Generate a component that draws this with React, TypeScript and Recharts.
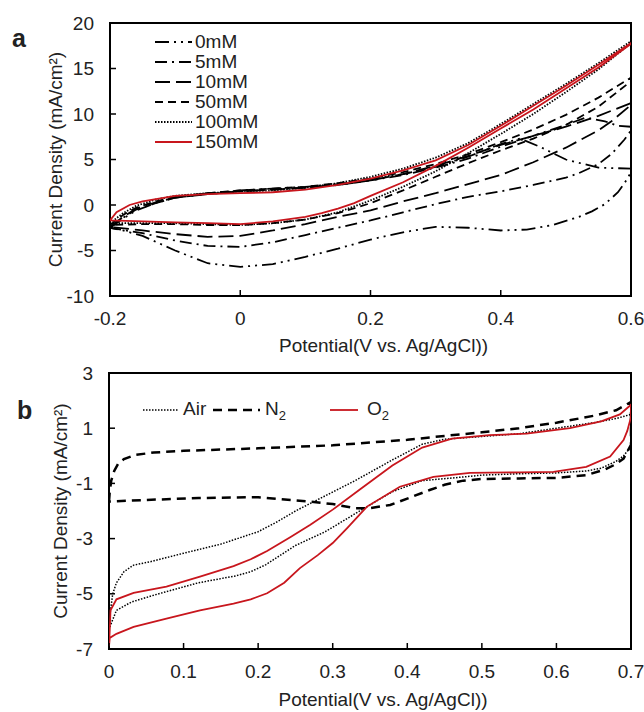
import React from 'react';
import { LineChart, Line, XAxis, YAxis, ReferenceArea, Label } from 'recharts';

// panel a: CV loops [potential V, current mA/cm2], forward scan then reverse scan
const cv0mM = [
  [-0.2, -2.5], [-0.18, -1.5], [-0.16, -0.6], [-0.13, 0.2], [-0.1, 0.8], [-0.05, 1.3], [0, 1.6],
  [0.05, 1.8], [0.1, 2.0], [0.15, 2.3], [0.2, 2.8], [0.25, 3.4], [0.3, 4.2], [0.35, 5.3], [0.4, 6.7],
  [0.43, 7.3], [0.46, 6.4], [0.5, 5.0], [0.55, 4.1], [0.6, 4.0],
  [0.6, 3.6], [0.59, 2.4], [0.58, 1.4], [0.56, 0.1], [0.54, -0.7], [0.52, -1.3], [0.48, -2.2],
  [0.44, -2.7], [0.4, -2.8], [0.35, -2.5], [0.3, -2.4], [0.25, -3.0], [0.2, -3.8], [0.15, -4.8],
  [0.1, -5.7], [0.05, -6.5], [0, -6.8], [-0.05, -6.4], [-0.1, -5.0], [-0.15, -3.4], [-0.18, -2.8], [-0.2, -2.5],
];
const cv5mM = [
  [-0.2, -2.5], [-0.18, -1.4], [-0.16, -0.5], [-0.13, 0.2], [-0.1, 0.8], [-0.05, 1.2], [0, 1.5],
  [0.05, 1.7], [0.1, 1.9], [0.15, 2.2], [0.2, 2.7], [0.25, 3.3], [0.3, 4.1], [0.35, 5.1], [0.4, 6.4],
  [0.45, 7.6], [0.5, 8.8], [0.53, 9.6], [0.56, 9.2], [0.58, 8.7], [0.6, 8.6],
  [0.6, 8.2], [0.59, 7.2], [0.57, 5.6], [0.55, 4.5], [0.52, 3.5], [0.5, 3.0], [0.45, 2.2], [0.4, 1.5],
  [0.35, 0.9], [0.3, 0.1], [0.25, -0.8], [0.2, -1.7], [0.15, -2.5], [0.1, -3.3], [0.05, -4.1], [0, -4.6],
  [-0.05, -4.5], [-0.1, -3.9], [-0.15, -3.1], [-0.2, -2.5],
];
const cv10mM = [
  [-0.2, -2.4], [-0.18, -1.3], [-0.16, -0.4], [-0.13, 0.3], [-0.1, 0.8], [-0.05, 1.2], [0, 1.5],
  [0.05, 1.7], [0.1, 1.9], [0.15, 2.2], [0.2, 2.7], [0.25, 3.4], [0.3, 4.3], [0.35, 5.4], [0.4, 6.6],
  [0.45, 7.6], [0.5, 8.6], [0.55, 9.8], [0.6, 11.2],
  [0.6, 11.0], [0.57, 9.2], [0.55, 8.2], [0.5, 6.3], [0.45, 4.7], [0.4, 3.3], [0.35, 2.3], [0.3, 1.3],
  [0.25, 0.4], [0.2, -0.6], [0.15, -1.3], [0.1, -2.1], [0.05, -2.8], [0, -3.4], [-0.05, -3.5],
  [-0.1, -3.2], [-0.15, -2.8], [-0.2, -2.4],
];
const cv50mM = [
  [-0.2, -2.2], [-0.18, -1.1], [-0.16, -0.3], [-0.13, 0.4], [-0.1, 0.9], [-0.05, 1.3], [0, 1.6],
  [0.05, 1.8], [0.1, 2.0], [0.15, 2.4], [0.2, 2.9], [0.25, 3.6], [0.3, 4.5], [0.35, 5.6], [0.4, 6.9],
  [0.45, 8.3], [0.5, 9.9], [0.55, 11.8], [0.6, 14.0],
  [0.6, 13.6], [0.55, 10.8], [0.5, 8.8], [0.45, 7.3], [0.4, 6.0], [0.35, 4.6], [0.3, 3.1], [0.25, 1.6],
  [0.2, 0.2], [0.15, -0.9], [0.1, -1.6], [0.05, -2.0], [0, -2.2], [-0.05, -2.2], [-0.1, -2.1],
  [-0.15, -2.1], [-0.2, -2.2],
];
const cv100mM = [
  [-0.2, -2.0], [-0.18, -0.9], [-0.16, -0.1], [-0.13, 0.6], [-0.1, 1.0], [-0.05, 1.3], [0, 1.5],
  [0.05, 1.6], [0.1, 1.9], [0.15, 2.4], [0.2, 3.1], [0.25, 4.0], [0.3, 5.2], [0.35, 6.8], [0.4, 8.9],
  [0.45, 11.1], [0.5, 13.3], [0.55, 15.6], [0.6, 18.0],
  [0.6, 17.8], [0.55, 14.9], [0.5, 12.4], [0.45, 10.0], [0.4, 7.8], [0.35, 5.7], [0.3, 3.7], [0.25, 2.0],
  [0.2, 0.5], [0.15, -0.8], [0.1, -1.6], [0.05, -2.0], [0, -2.2], [-0.05, -2.1], [-0.1, -2.0],
  [-0.15, -2.0], [-0.2, -2.0],
];
const cv150mM = [
  [-0.2, -1.7], [-0.19, -0.8], [-0.17, 0.0], [-0.15, 0.4], [-0.1, 1.0], [-0.05, 1.2], [0, 1.3],
  [0.05, 1.4], [0.1, 1.7], [0.15, 2.2], [0.2, 2.9], [0.25, 3.8], [0.3, 4.9], [0.35, 6.6], [0.4, 8.7],
  [0.45, 10.9], [0.5, 13.1], [0.55, 15.4], [0.6, 17.8],
  [0.6, 17.7], [0.55, 15.1], [0.5, 12.8], [0.45, 10.5], [0.4, 8.4], [0.35, 6.3], [0.3, 4.3], [0.25, 2.5],
  [0.2, 1.0], [0.175, 0.2], [0.15, -0.4], [0.125, -0.9], [0.1, -1.3], [0.05, -1.8], [0, -2.1],
  [-0.05, -2.0], [-0.1, -1.9], [-0.15, -1.8], [-0.2, -1.7],
];

// panel b
const cvAir = [
  [0, -6.3], [0.002, -5.6], [0.005, -5.0], [0.01, -4.6], [0.02, -4.2], [0.033, -3.96], [0.055, -3.84],
  [0.1, -3.53], [0.15, -3.2], [0.2, -2.75], [0.225, -2.4], [0.25, -2.0], [0.29, -1.45], [0.33, -0.9],
  [0.38, -0.15], [0.42, 0.42], [0.45, 0.6], [0.5, 0.7], [0.55, 0.8], [0.6, 1.0], [0.65, 1.2], [0.68, 1.35], [0.7, 1.5],
  [0.7, 0.33], [0.69, 0.0], [0.68, -0.2], [0.66, -0.45], [0.64, -0.55], [0.6, -0.62], [0.55, -0.65],
  [0.5, -0.7], [0.47, -0.78], [0.42, -0.9], [0.38, -1.3], [0.33, -2.1], [0.29, -2.75], [0.25, -3.25],
  [0.23, -3.6], [0.21, -3.95], [0.19, -4.2], [0.17, -4.35], [0.12, -4.6], [0.06, -5.05], [0.03, -5.3],
  [0.01, -5.6], [0.004, -6.0], [0, -6.3],
];
const cvN2 = [
  [0, -1.66], [0.001, -1.3], [0.003, -0.9], [0.007, -0.55], [0.012, -0.3], [0.02, -0.12], [0.035, 0.03],
  [0.06, 0.12], [0.1, 0.18], [0.2, 0.27], [0.3, 0.38], [0.4, 0.58], [0.45, 0.72], [0.5, 0.85], [0.55, 1.0],
  [0.6, 1.2], [0.65, 1.45], [0.68, 1.65], [0.7, 1.95],
  [0.7, 0.4], [0.69, -0.1], [0.68, -0.3], [0.665, -0.5], [0.64, -0.7], [0.6, -0.8], [0.55, -0.82],
  [0.5, -0.84], [0.475, -0.9], [0.45, -1.05], [0.43, -1.24], [0.4, -1.55], [0.377, -1.78], [0.35, -1.9],
  [0.33, -1.9], [0.3, -1.75], [0.27, -1.66], [0.2, -1.5], [0.12, -1.53], [0.05, -1.6], [0, -1.66],
];
const cvO2 = [
  [0, -6.9], [0.001, -6.3], [0.002, -5.6], [0.01, -5.2], [0.033, -4.97], [0.077, -4.74], [0.122, -4.38],
  [0.167, -4.0], [0.19, -3.75], [0.212, -3.45], [0.243, -2.95], [0.27, -2.5], [0.3, -1.95], [0.34, -1.15],
  [0.38, -0.35], [0.42, 0.3], [0.46, 0.62], [0.51, 0.75], [0.56, 0.8], [0.618, 1.0], [0.66, 1.25],
  [0.685, 1.5], [0.7, 1.85],
  [0.7, 1.4], [0.695, 0.9], [0.69, 0.57], [0.672, -0.03], [0.64, -0.4], [0.596, -0.58], [0.55, -0.6],
  [0.484, -0.62], [0.435, -0.76], [0.39, -1.12], [0.346, -1.84], [0.32, -2.6], [0.3, -3.16],
  [0.28, -3.6], [0.256, -4.07], [0.235, -4.6], [0.212, -4.98], [0.19, -5.2], [0.167, -5.36],
  [0.122, -5.6], [0.077, -5.9], [0.033, -6.2], [0.01, -6.45], [0.001, -6.6], [0, -6.9],
];

const ticksXA = [-0.2, 0, 0.2, 0.4, 0.6];
const ticksYA = [-10, -5, 0, 5, 10, 15, 20];
const ticksXB = [0, 0.1, 0.2, 0.3, 0.4, 0.5, 0.6, 0.7];
const ticksYB = [-7, -5, -3, -1, 1, 3];

const RED = '#c8161d';
const FONT = '"Liberation Sans", Arial, sans-serif';

const toPts = (arr: number[][]) => arr.map(([v, i]) => ({ v, i }));

const seriesA = [
  { name: '0mM', pts: cv0mM, color: '#000', dash: '14 5 2 5 2 5', w: 1.8 },
  { name: '5mM', pts: cv5mM, color: '#000', dash: '12 5 2 5', w: 1.8 },
  { name: '10mM', pts: cv10mM, color: '#000', dash: '15 6', w: 1.8 },
  { name: '50mM', pts: cv50mM, color: '#000', dash: '8 5', w: 1.8 },
  { name: '100mM', pts: cv100mM, color: '#000', dash: '1.5 1.5', w: 1.8 },
  { name: '150mM', pts: cv150mM, color: RED, dash: undefined, w: 1.8 },
];

const seriesB = [
  { name: 'Air', pts: cvAir, color: '#000', dash: '1.5 1.5', w: 1.5, lx: 143, lw: 35, tx: 183 },
  { name: 'N', sub: '2', pts: cvN2, color: '#000', dash: '9 6', w: 2.5, lx: 213, lw: 47, tx: 265 },
  { name: 'O', sub: '2', pts: cvO2, color: RED, dash: undefined, w: 1.8, lx: 330, lw: 28, tx: 367 },
];

const XTick = (props: any) => {
  const { x, y, payload } = props;
  return (
    <g>
      <line x1={x} y1={y} x2={x} y2={y - 6} stroke="#000" strokeWidth={1.5} />
      <text x={x} y={y + 29} textAnchor="middle" fontSize={19} fontFamily={FONT} fill="#222">
        {payload.value}
      </text>
    </g>
  );
};

const YTick = (props: any) => {
  const { x, y, payload } = props;
  return (
    <g>
      <line x1={x} y1={y} x2={x + 6} y2={y} stroke="#000" strokeWidth={1.5} />
      <text x={x - 16} y={y} dy="0.35em" textAnchor="end" fontSize={19} fontFamily={FONT} fill="#222">
        {payload.value}
      </text>
    </g>
  );
};

const Sample = ({ color, dash, w, width }: any) => (
  <svg width={width} height={8} style={{ display: 'block' }}>
    <line x1={0} y1={4} x2={width} y2={4} stroke={color} strokeWidth={w} strokeDasharray={dash} />
  </svg>
);

const xTitle = 'Potential(V vs. Ag/AgCl))';
const yTitle = 'Current Density (mA/cm²)';

export default function App() {
  return (
    <div style={{ position: 'absolute', left: 0, top: 0, width: 644, height: 712, background: '#fff', fontFamily: FONT, color: '#222' }}>
      <div style={{ position: 'absolute', left: 0, top: 0 }}>
        <LineChart width={644} height={360} margin={{ top: 23, right: 13, bottom: 4, left: 50 }}>
          <XAxis type="number" dataKey="v" domain={[-0.2, 0.6]} ticks={ticksXA} allowDataOverflow
            axisLine={false} tickLine={false} tickSize={0} tickMargin={0} tick={<XTick />} height={60} interval={0}>
            <Label value={xTitle} position="insideBottom" offset={4} dx={13} fontSize={19} fontFamily={FONT} fill="#222" />
          </XAxis>
          <YAxis type="number" dataKey="i" domain={[-10, 20]} ticks={ticksYA} allowDataOverflow
            axisLine={false} tickLine={false} tickSize={0} tickMargin={0} tick={<YTick />} width={60} interval={0}>
            <Label value={yTitle} angle={-90} position="insideLeft" offset={5} fontSize={19} fontFamily={FONT} fill="#222" style={{ textAnchor: 'middle' }} />
          </YAxis>
          <ReferenceArea x1={-0.2} x2={0.6} y1={-10} y2={20} fill="none" fillOpacity={0} stroke="#000" strokeWidth={2} />
          {seriesA.map((s) => (
            <Line key={s.name} name={s.name} data={toPts(s.pts)} dataKey="i" type="linear" stroke={s.color}
              strokeWidth={s.w} strokeDasharray={s.dash} dot={false} activeDot={false} isAnimationActive={false} />
          ))}
        </LineChart>
      </div>
      <div style={{ position: 'absolute', left: 0, top: 360 }}>
        <LineChart width={644} height={352} margin={{ top: 13, right: 13, bottom: 3, left: 49 }}>
          <XAxis type="number" dataKey="v" domain={[0, 0.7]} ticks={ticksXB} allowDataOverflow
            axisLine={false} tickLine={false} tickSize={0} tickMargin={0} tick={<XTick />} height={60} interval={0}>
            <Label value={xTitle} position="insideBottom" offset={3} dx={13} fontSize={19} fontFamily={FONT} fill="#222" />
          </XAxis>
          <YAxis type="number" dataKey="i" domain={[-7, 3]} ticks={ticksYB} allowDataOverflow
            axisLine={false} tickLine={false} tickSize={0} tickMargin={0} tick={<YTick />} width={60} interval={0}>
            <Label value={yTitle} angle={-90} position="insideLeft" offset={11} fontSize={19} fontFamily={FONT} fill="#222" style={{ textAnchor: 'middle' }} />
          </YAxis>
          <ReferenceArea x1={0} x2={0.7} y1={-7} y2={3} fill="none" fillOpacity={0} stroke="#000" strokeWidth={2} />
          {seriesB.map((s) => (
            <Line key={s.name} name={s.name} data={toPts(s.pts)} dataKey="i" type="linear" stroke={s.color}
              strokeWidth={s.w} strokeDasharray={s.dash} dot={false} activeDot={false} isAnimationActive={false} />
          ))}
        </LineChart>
      </div>

      <div style={{ position: 'absolute', left: 12, top: 24, fontSize: 25, fontWeight: 'bold', lineHeight: '28px' }}>a</div>
      <div style={{ position: 'absolute', left: 17, top: 396, fontSize: 25, fontWeight: 'bold', lineHeight: '28px' }}>b</div>

      {seriesA.map((s, k) => (
        <div key={s.name} style={{ position: 'absolute', left: 155, top: 31 + k * 20, height: 22, display: 'flex', alignItems: 'center', fontSize: 19 }}>
          <Sample color={s.color} dash={s.dash} w={s.w} width={37} />
          <span style={{ marginLeft: 3 }}>{s.name}</span>
        </div>
      ))}
      {seriesB.map((s) => (
        <React.Fragment key={s.name}>
          <div style={{ position: 'absolute', left: s.lx, top: 406 }}>
            <Sample color={s.color} dash={s.dash} w={s.w} width={s.lw} />
          </div>
          <div style={{ position: 'absolute', left: s.tx, top: 398, fontSize: 19, lineHeight: '22px' }}>
            {s.name}{s.sub ? <sub style={{ fontSize: 13 }}>{s.sub}</sub> : null}
          </div>
        </React.Fragment>
      ))}
    </div>
  );
}
